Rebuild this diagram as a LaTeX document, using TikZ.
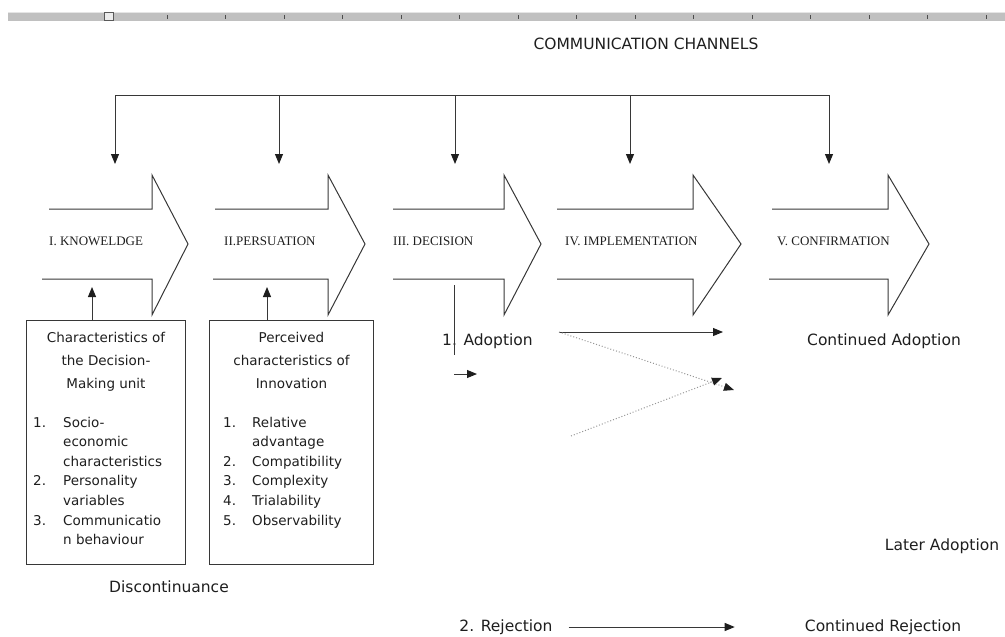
\documentclass[tikz,border=0pt]{standalone}
\usepackage{fontspec}
\setmainfont{Liberation Serif}
\setsansfont{DejaVu Sans}
\usetikzlibrary{arrows.meta, positioning, calc}
\definecolor{lineGray}{RGB}{55,55,55}
\definecolor{dotGray}{RGB}{150,150,150}
\definecolor{rulerGray}{RGB}{192,192,192}
\definecolor{inkBlack}{RGB}{30,30,30}
\tikzset{
    % Stage arrows and their labels
    stageArrow/.style={draw=lineGray, line width=1pt},
    stageLabel/.style={font=\fontsize{13}{15}\selectfont, text=inkBlack, anchor=west, inner sep=0pt},
    % Outcome labels
    outLabel/.style={font=\sffamily\fontsize{15.5}{18}\selectfont, text=inkBlack, inner sep=0pt},
    % Side boxes
    infoBox/.style={draw=lineGray, line width=1pt, minimum height=244pt, inner sep=0pt},
    boxHead/.style={font=\sffamily\fontsize{13.5}{23.3}\selectfont, text=inkBlack, align=center, anchor=base, inner sep=0pt},
    boxList/.style={font=\sffamily\fontsize{13.5}{19.6}\selectfont, text=inkBlack, anchor=base west, inner sep=0pt},
    % Connectors
    arrow/.style={-{Triangle[length=10pt,width=8pt,color=inkBlack]}, draw=lineGray, line width=1pt},
    dotArrow/.style={arrow, draw=dotGray, dotted}
}

\begin{document}
\begin{tikzpicture}[x=1pt, y=-1pt, node distance=23pt]
    \useasboundingbox (0,0) rectangle (1005,637);

    % --- Ruler strip ---
    \fill[rulerGray] (8,12) rectangle (1005,21);
    \draw[white!80!gray] (8,12.5) -- (1005,12.5);
    \foreach \k in {0,...,14}
        \draw[gray!60!black, line width=0.8pt] ({167+58.5*\k},15) -- ++(0,4);
    \draw[gray!70!black, fill=gray!15] (104,12) rectangle (113,20);

    % --- Communication channels ---
    \node[outLabel] (comm) at (646,44) {COMMUNICATION CHANNELS};
    \foreach \cx [count=\i] in {115,279,455,630,829}
        \coordinate (ch\i) at (\cx,164);
    \coordinate (busL) at (115,95);
    \draw[stageArrow] (busL) -- (ch5 |- busL);
    \foreach \i in {1,...,5}
        \draw[arrow] (ch\i |- busL) -- (ch\i);

    % --- Stage arrows (open on the left) ---
    \foreach \nm/\bl/\bb/\nx/\tx/\lx/\lab in {
        know/49/42/152/188/49/{I. KNOWELDGE},
        pers/215/213/328/365/224/{II.PERSUATION},
        deci/393/393/504/541/393/{III. DECISION},
        impl/557/557/693/741/565/{IV. IMPLEMENTATION},
        conf/772/769/888/929/777/{V. CONFIRMATION}} {
        \draw[stageArrow] (\bl,209) -- (\nx,209) -- (\nx,175) -- (\tx,244)
            -- (\nx,315) -- (\nx,279) -- (\bb,279);
        \node[stageLabel] (\nm) at (\lx,241) {\lab};
    }

    % --- Side boxes ---
    \node[infoBox, minimum width=159pt, anchor=north west] (box1) at (26,320) {};
    \node[infoBox, minimum width=164pt, right=of box1] (box2) {};

    % base of a multi-line node is its last line
    \node[boxHead] (head1) at ([yshift=-68.6pt]box1.north)
        {Characteristics of\\the Decision-\\Making unit};
    \node[boxList] (list1) at ([xshift=7pt, yshift=-107pt]box1.north west) {%
        \begin{tabular}[t]{@{}p{30pt}@{}l@{}}
        1. & Socio-\\
           & economic\\
           & characteristics\\
        2. & Personality\\
           & variables\\
        3. & Communicatio\\
           & n behaviour
        \end{tabular}};

    \node[boxHead] (head2) at ([yshift=-68.6pt]box2.north)
        {Perceived\\characteristics of\\Innovation};
    \node[boxList] (list2) at ([xshift=14pt, yshift=-107pt]box2.north west) {%
        \begin{tabular}[t]{@{}p{29pt}@{}l@{}}
        1. & Relative\\
           & advantage\\
        2. & Compatibility\\
        3. & Complexity\\
        4. & Trialability\\
        5. & Observability
        \end{tabular}};

    \coordinate (upKnow) at (92,287);
    \coordinate (upPers) at (267,287);
    \draw[arrow] (upKnow |- box1.north) -- (upKnow);
    \draw[arrow] (upPers |- box2.north) -- (upPers);

    % --- Decision outcomes ---
    \node[outLabel, anchor=west] (adopt) at (442,341) {1. Adoption};
    \coordinate (decTop) at (454,285);
    \coordinate (decBot) at (454,355);
    \draw[stageArrow] (decTop) -- (decBot);
    \coordinate (smallA) at (454,374);
    \draw[arrow] (smallA) -- ++(23,0);

    \node[outLabel] (contAdopt) at (884,341) {Continued Adoption};
    \node[outLabel] (laterAdopt) at (942,546) {Later Adoption};
    \node[outLabel] (discont) at (169,587) {Discontinuance};
    \node[outLabel] (reject) at (506,627) {2. Rejection};
    \node[outLabel] (contReject) at (883,627) {Continued Rejection};

    \coordinate (fork) at (559,332);
    \coordinate (forkEnd) at (723,332);
    \coordinate (dotEnd) at (734,390);
    \coordinate (lateStart) at (571,436);
    \coordinate (lateEnd) at (722,378);
    \draw[arrow] (fork) -- (forkEnd);
    \draw[dotArrow] (fork) -- (dotEnd);
    \draw[dotArrow] (lateStart) -- (lateEnd);

    \draw[arrow] ([xshift=16pt]reject.east) -- ([xshift=-70pt]contReject.west);

\end{tikzpicture}
\end{document}
